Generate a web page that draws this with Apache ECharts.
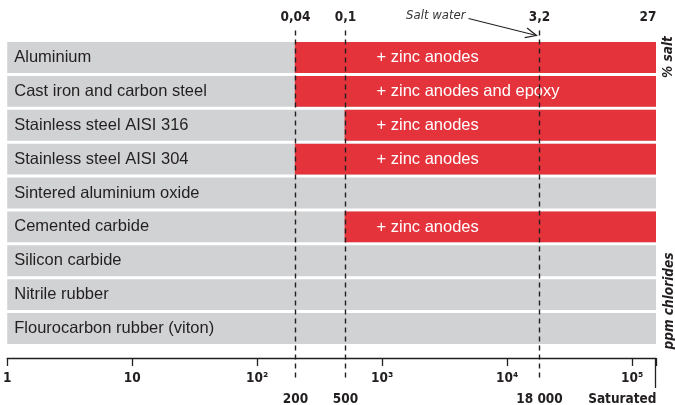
<!DOCTYPE html>
<html>
<head>
<meta charset="utf-8">
<script src="https://cdn.jsdelivr.net/npm/echarts@6/dist/echarts.min.js"></script>
<style>
  html, body { margin: 0; padding: 0; background: #fff; }
  #chart { width: 675px; height: 405px; }
</style>
</head>
<body>
<div id="chart"></div>
<script>
// Materials and the chloride level (ppm) above which they need protection
const categories = [
  'Aluminium',
  'Cast iron and carbon steel',
  'Stainless steel AISI 316',
  'Stainless steel AISI 304',
  'Sintered aluminium oxide',
  'Cemented carbide',
  'Silicon carbide',
  'Nitrile rubber',
  'Flourocarbon rubber (viton)'
];
// null = resistant over the whole range
const protectFrom = [200, 200, 500, 200, null, 500, null, null, null];
const protectNote = ['+ zinc anodes', '+ zinc anodes and epoxy', '+ zinc anodes', '+ zinc anodes', '', '+ zinc anodes', '', '', ''];

// Chloride scale (ppm, log) and the matching % salt
const ppmMin = 1;
const ppmSaturated = 155000;
const limitPpm = [200, 500, 18000];
const limitPpmLabels = ['200', '500', '18 000'];
const limitSaltLabels = ['0,04', '0,1', '3,2'];
const saturatedPpmLabel = 'Saturated';
const saturatedSaltLabel = '27';
const saltWaterPpm = 18000;
const saltWaterLabel = 'Salt water';
const noteAtPpm = 900;
const decadeLabels = { 1: '1', 10: '10', 100: '10²', 1000: '10³', 10000: '10⁴', 100000: '10⁵' };

const INK = '#231f20';
const GREY = '#d1d2d4';
const RED = '#e5333c';
const NARROW = "'Liberation Sans Narrow', 'DejaVu Sans Condensed', 'Arial Narrow', sans-serif";
const BODY = "'Liberation Sans', Arial, sans-serif";
const SMALL = 13.5;

const chart = echarts.init(document.getElementById('chart'), null, { renderer: 'canvas' });

function barRect(api, from, to, cat) {
  const a = api.coord([from, cat]);
  const b = api.coord([to, cat]);
  const h = api.size([0, 1])[1] * 0.912;
  return { x: a[0], y: a[1] - h / 2, width: b[0] - a[0], height: h };
}

const backData = categories.map((c, i) => [ppmMin, ppmSaturated, i]);
const protectData = [];
protectFrom.forEach((v, i) => {
  if (v != null) protectData.push([v, ppmSaturated, i, protectNote[i]]);
});
const limitData = limitPpm.map((v, i) => [v, 0, i]);

chart.setOption({
  animation: false,
  backgroundColor: '#fff',
  grid: { left: 6, right: 19, top: 40.5, bottom: 59.5, containLabel: false },
  xAxis: {
    type: 'log',
    logBase: 10,
    min: ppmMin,
    max: ppmSaturated,
    offset: 12.5,
    axisLine: { show: true, lineStyle: { color: INK, width: 1.3 } },
    axisTick: { show: true, length: 8, lineStyle: { color: INK, width: 1.3 } },
    minorTick: { show: false },
    splitLine: { show: false },
    axisLabel: {
      margin: 13,
      color: INK,
      fontFamily: NARROW,
      fontWeight: 'bold',
      fontSize: SMALL,
      formatter: v => decadeLabels[Math.round(v)] !== undefined && Math.abs(v - Math.round(v)) < 1e-6 ? decadeLabels[Math.round(v)] : ''
    }
  },
  yAxis: {
    type: 'category',
    data: categories,
    inverse: true,
    z: 5,
    axisLine: { show: false },
    axisTick: { show: false },
    splitLine: { show: false },
    axisLabel: {
      inside: true,
      margin: 7,
      color: INK,
      fontFamily: BODY,
      fontSize: 16.5
    }
  },
  series: [
    {
      // grey band per material across the whole range
      type: 'custom',
      z: 1,
      data: backData,
      encode: { x: [0, 1], y: 2 },
      renderItem: (params, api) => ({
        type: 'rect',
        shape: barRect(api, api.value(0), api.value(1), api.value(2)),
        style: { fill: GREY }
      })
    },
    {
      // protected range (red) with its note
      type: 'custom',
      z: 2,
      data: protectData,
      encode: { x: [0, 1], y: 2 },
      renderItem: (params, api) => {
        const cat = api.value(2);
        const r = barRect(api, api.value(0), api.value(1), cat);
        const p = api.coord([noteAtPpm, cat]);
        return {
          type: 'group',
          children: [
            { type: 'rect', shape: r, style: { fill: RED } },
            {
              type: 'text',
              style: {
                text: protectNote[cat],
                x: p[0], y: p[1] + 0.5,
                fill: '#fff',
                fontFamily: BODY,
                fontSize: 16.5,
                align: 'left',
                verticalAlign: 'middle'
              }
            }
          ]
        };
      }
    },
    {
      // limit lines with ppm and % salt labels
      type: 'custom',
      z: 3,
      data: limitData,
      encode: { x: 0, y: 1 },
      renderItem: (params, api) => {
        const cs = params.coordSys;
        const i = api.value(2);
        const x = Math.round(api.coord([api.value(0), 0])[0]) + 0.5;
        const top = cs.y - 10;
        const bottom = cs.y + cs.height + 35;
        const children = [
          {
            type: 'line',
            shape: { x1: x, y1: top, x2: x, y2: bottom },
            style: { stroke: INK, lineWidth: 1.4, lineDash: [5, 4] }
          },
          {
            type: 'text',
            style: {
              text: limitSaltLabels[i], x: x, y: 17,
              fill: INK, fontFamily: NARROW, fontWeight: 'bold', fontSize: SMALL,
              align: 'center', verticalAlign: 'middle'
            }
          },
          {
            type: 'text',
            style: {
              text: limitPpmLabels[i], x: x, y: cs.y + cs.height + 54,
              fill: INK, fontFamily: NARROW, fontWeight: 'bold', fontSize: SMALL,
              align: 'center', verticalAlign: 'middle'
            }
          }
        ];
        if (api.value(0) === saltWaterPpm) {
          const tx = x - 3, ty = cs.y - 5;
          const sx = tx - 68, sy = ty - 17;
          const ang = Math.atan2(ty - sy, tx - sx);
          const L = 12, spread = 0.42;
          children.push(
            { type: 'line', shape: { x1: sx, y1: sy, x2: tx, y2: ty }, style: { stroke: INK, lineWidth: 1.2 } },
            {
              type: 'polyline',
              shape: { points: [
                [tx - L * Math.cos(ang - spread), ty - L * Math.sin(ang - spread)],
                [tx, ty],
                [tx - L * Math.cos(ang + spread), ty - L * Math.sin(ang + spread)]
              ] },
              style: { stroke: INK, lineWidth: 1.2, fill: null }
            },
            {
              type: 'text',
              style: {
                text: saltWaterLabel, x: sx - 3, y: 16,
                fill: '#333', fontFamily: NARROW, fontStyle: 'italic', fontSize: 13,
                align: 'right', verticalAlign: 'middle'
              }
            }
          );
        }
        if (i === limitPpm.length - 1) {
          // end of the scale: saturated brine
          const ex = Math.round(cs.x + cs.width) - 0.5;
          const axisY = cs.y + cs.height + 12.5;
          children.push(
            { type: 'line', shape: { x1: ex, y1: axisY, x2: ex, y2: axisY + 30 }, style: { stroke: INK, lineWidth: 1.3 } },
            {
              type: 'text',
              style: {
                text: saturatedSaltLabel, x: ex + 1, y: 17,
                fill: INK, fontFamily: NARROW, fontWeight: 'bold', fontSize: SMALL,
                align: 'right', verticalAlign: 'middle'
              }
            },
            {
              type: 'text',
              style: {
                text: saturatedPpmLabel, x: ex + 1, y: cs.y + cs.height + 54,
                fill: INK, fontFamily: NARROW, fontWeight: 'bold', fontSize: SMALL,
                align: 'right', verticalAlign: 'middle'
              }
            }
          );
        }
        return { type: 'group', children: children };
      }
    }
  ],
  graphic: [
    {
      type: 'text',
      x: 668, y: 57,
      rotation: Math.PI / 2,
      style: {
        text: '% salt', fill: INK, fontFamily: NARROW, fontWeight: 'bold', fontStyle: 'italic', fontSize: SMALL,
        align: 'center', verticalAlign: 'middle'
      }
    },
    {
      type: 'text',
      x: 669, y: 301,
      rotation: Math.PI / 2,
      style: {
        text: 'ppm chlorides', fill: INK, fontFamily: NARROW, fontWeight: 'bold', fontStyle: 'italic', fontSize: SMALL,
        align: 'center', verticalAlign: 'middle'
      }
    }
  ]
});
</script>
</body>
</html>
